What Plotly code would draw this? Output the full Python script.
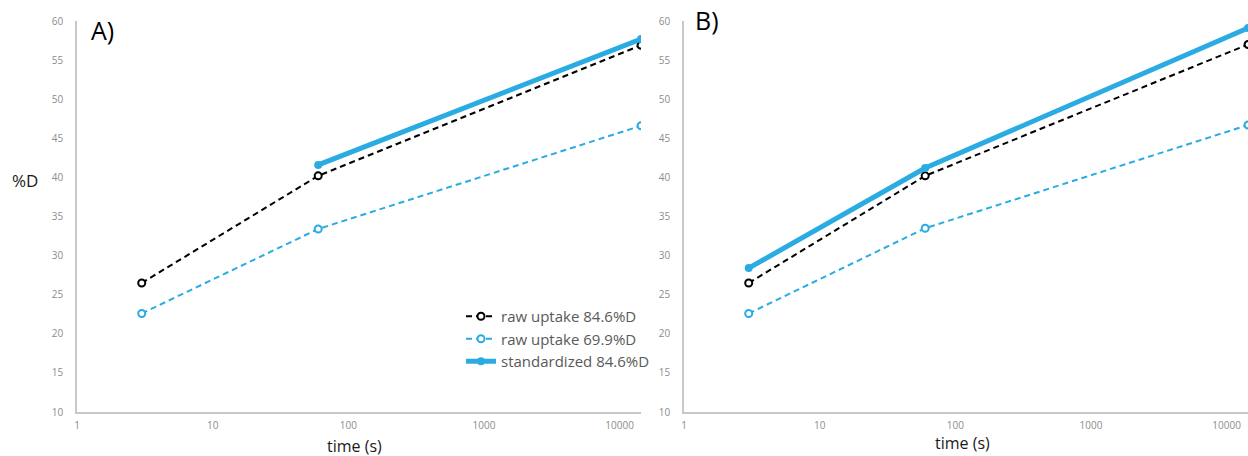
import plotly.graph_objects as go

# Data
time_s = [3, 60, 14400]
raw_846_A = [26.5, 40.2, 56.9]
raw_699_A = [22.6, 33.4, 46.6]
std_A_time = [60, 14400]
std_846_A = [41.6, 57.7]

raw_846_B = [26.5, 40.2, 57.0]
raw_699_B = [22.6, 33.5, 46.7]
std_846_B = [28.4, 41.2, 59.1]

x_tickvals = [1, 10, 100, 1000, 10000]
x_ticktext = ["1", "10", "100", "1000", "10000"]
y_tickvals = [10, 15, 20, 25, 30, 35, 40, 45, 50, 55, 60]

names = ["raw uptake 84.6%D", "raw uptake 69.9%D", "standardized 84.6%D"]

BLUE = "#2AACE2"
FONT = "Open Sans"

fig = go.Figure()

def add_panel(xa, ya, raw846, raw699, stdx, stdy, show):
    fig.add_trace(go.Scatter(
        x=time_s, y=raw846, xaxis=xa, yaxis=ya, name=names[0], showlegend=show,
        mode="lines+markers",
        line=dict(color="black", width=2, dash="6px,4px"),
        marker=dict(symbol="circle", size=7, color="white", line=dict(color="black", width=2)),
    ))
    fig.add_trace(go.Scatter(
        x=time_s, y=raw699, xaxis=xa, yaxis=ya, name=names[1], showlegend=show,
        mode="lines+markers",
        line=dict(color=BLUE, width=2, dash="6px,4px"),
        marker=dict(symbol="circle", size=7, color="white", line=dict(color=BLUE, width=2)),
    ))
    fig.add_trace(go.Scatter(
        x=stdx, y=stdy, xaxis=xa, yaxis=ya, name=names[2], showlegend=show,
        mode="lines+markers",
        line=dict(color=BLUE, width=5),
        marker=dict(symbol="circle", size=8, color=BLUE),
    ))

add_panel("x", "y", raw_846_A, raw_699_A, std_A_time, std_846_A, True)
add_panel("x2", "y2", raw_846_B, raw_699_B, time_s, std_846_B, False)

W, H = 1248, 456
ydom = [1 - 412 / H, 1 - 21 / H]
xrange_log = [0, 4.158]

axis_common_x = dict(
    type="log", range=xrange_log, tickvals=x_tickvals, ticktext=x_ticktext,
    showgrid=False, zeroline=False, showline=True, linecolor="#C8C8C8", linewidth=1.5,
    ticks="", tickfont=dict(size=10, color="#8C8C8C", family=FONT), ticklabelstandoff=3,
    automargin=False,
)
axis_common_y = dict(
    range=[10, 60], tickvals=y_tickvals, showgrid=False, zeroline=False,
    showline=True, linecolor="#C8C8C8", linewidth=1.5, ticks="",
    tickfont=dict(size=10, color="#8C8C8C", family=FONT), ticklabelstandoff=10,
    automargin=False,
)

def label(text, x, y, size, anchor="center"):
    return dict(text=text, x=x / W, y=1 - y / H, xref="paper", yref="paper",
                xanchor=anchor, yanchor="middle", showarrow=False,
                font=dict(size=size, color="black" if size > 17 else "#1a1a1a", family=FONT))

fig.update_layout(
    width=W, height=H, margin=dict(l=0, r=0, t=0, b=0, autoexpand=False),
    paper_bgcolor="white", plot_bgcolor="white",
    xaxis=dict(domain=[77 / W, 641 / W], anchor="y", **axis_common_x),
    yaxis=dict(domain=ydom, anchor="x", **axis_common_y),
    xaxis2=dict(domain=[684 / W, 1.0], anchor="y2", **axis_common_x),
    yaxis2=dict(domain=ydom, anchor="x2", **axis_common_y),
    legend=dict(x=461 / W, y=1 - 300 / H, xanchor="left", yanchor="top",
                font=dict(size=15, color="#595959", family=FONT),
                bgcolor="rgba(0,0,0,0)", tracegroupgap=0),
    font=dict(family=FONT),
    annotations=[
        label("A)", 89, 30, 25, "left"),
        label("B)", 693, 20, 25, "left"),
        label("%D", 25, 181, 17),
        label("time (s)", 354, 446, 16),
        label("time (s)", 962, 443, 16),
    ],
)

fig.write_html("out.html")
